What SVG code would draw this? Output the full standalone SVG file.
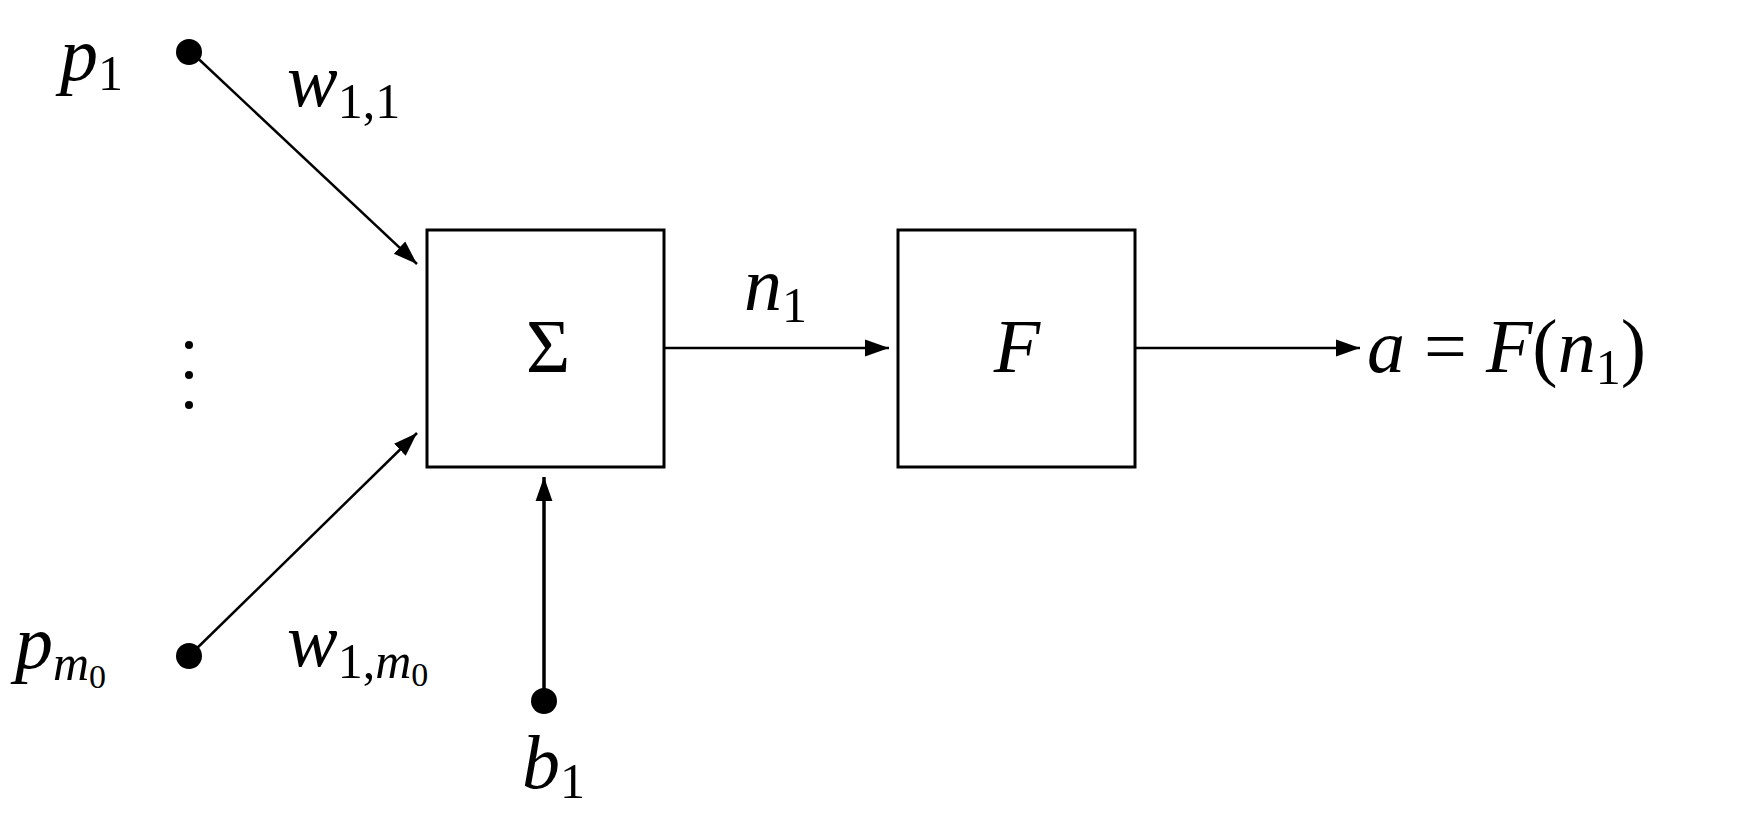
<svg xmlns="http://www.w3.org/2000/svg" width="1742" height="821" viewBox="0 0 1742 821">
<style>
.t{font-family:"Liberation Serif","DejaVu Serif",serif;font-style:italic;font-size:76px;fill:#000}
.s{font-size:50px}
.u{font-style:normal}
.b{fill:#fff;stroke:#000;stroke-width:3}
.l{stroke:#000;stroke-width:2.5;fill:none}
</style>
<defs><marker id="a2" viewBox="0 0 10 10" refX="10" refY="5" markerWidth="24" markerHeight="24" markerUnits="userSpaceOnUse" orient="auto"><path d="M0,1.5L10,5L0,8.5z"/></marker></defs>
<rect width="1742" height="821" fill="#fff"/>
<g id="connectors">
<line class="l" x1="189" y1="50" x2="417" y2="264" marker-end="url(#a2)"/>
<line class="l" x1="189" y1="656" x2="417" y2="433" marker-end="url(#a2)"/>
<line class="l" x1="544" y1="700" x2="544" y2="477" marker-end="url(#a2)" style="stroke-width:3.5"/>
<line class="l" x1="664" y1="348" x2="889" y2="348" marker-end="url(#a2)"/>
<line class="l" x1="1135" y1="348" x2="1360" y2="348" marker-end="url(#a2)"/>
</g>
<g id="p1"><circle cx="189" cy="52" r="13"/><text class="t" x="60" y="80">p<tspan class="s u" dy="10">1</tspan></text></g>
<g id="pm0"><circle cx="189" cy="656" r="13"/><text class="t" x="15" y="668">p<tspan class="s" dy="12">m</tspan><tspan class="u" font-size="34" dy="8">0</tspan></text></g>
<g id="b1"><circle cx="544" cy="701" r="13"/><text class="t" x="522" y="788">b<tspan class="s u" dy="10">1</tspan></text></g>
<g id="dots"><circle cx="189" cy="345" r="4"/><circle cx="189" cy="375" r="4"/><circle cx="189" cy="405" r="4"/></g>
<g id="w11"><text class="t" x="287" y="106">w<tspan class="s u" dy="12">1,1</tspan></text></g>
<g id="w1m0"><text class="t" x="287" y="666">w<tspan class="s u" dy="12">1,</tspan><tspan class="s">m</tspan><tspan class="u" font-size="34" dy="8">0</tspan></text></g>
<g id="sum"><rect class="b" x="427" y="230" width="237" height="237"/><text class="t u" x="548" y="372" text-anchor="middle">Σ</text></g>
<g id="n1"><text class="t" x="744" y="310">n<tspan class="s u" dy="12">1</tspan></text></g>
<g id="F"><rect class="b" x="898" y="230" width="237" height="237"/><text class="t" x="1017" y="372" text-anchor="middle">F</text></g>
<g id="out"><text class="t" x="1367" y="372">a <tspan class="u">=</tspan> F<tspan class="u">(</tspan>n<tspan class="s u" dy="12">1</tspan><tspan class="u" dy="-12">)</tspan></text></g>
</svg>
